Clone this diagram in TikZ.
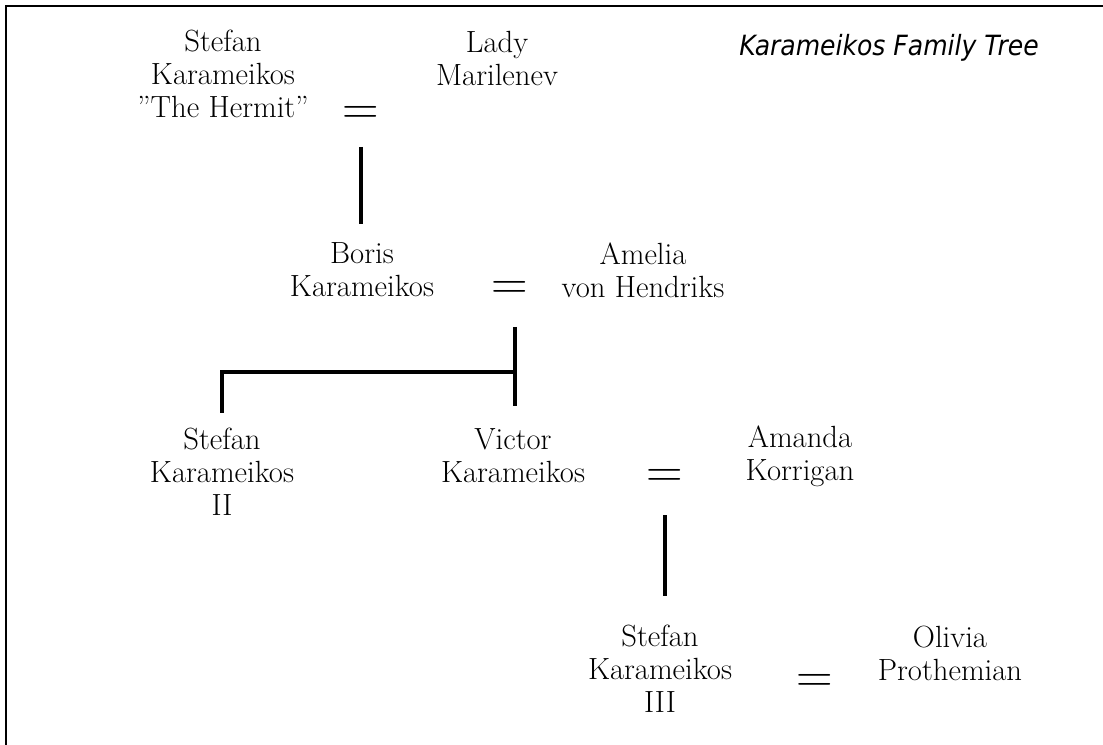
\documentclass[tikz,border=0pt]{standalone}
\usepackage{fontspec}
\usepackage{tikz}
\usetikzlibrary{calc}

\newfontfamily\titlefont{DejaVu Sans Condensed}
\newcommand{\personfont}{\fontsize{23pt}{24.75pt}\selectfont}

\begin{document}
\begin{tikzpicture}[x=0.75pt, y=-0.75pt,
    person/.style={align=center, inner sep=0pt, font=\personfont},
    marriage/.style={inner sep=0pt, font=\fontsize{38pt}{38pt}\selectfont},
    descent/.style={line width=3pt}]
            \useasboundingbox (0,0) rectangle (1103,745);
            \draw[line width=1.5pt] (6,745) -- (6,6) -- (1103,6);

            \node[font=\titlefont\itshape\fontsize{20.9pt}{24pt}\selectfont] (title) at (889,48) {Karameikos Family Tree};

            % first generation
            \node[person] (hermit) at (223,74) {Stefan\\Karameikos\\''The Hermit''};
            \node[marriage] (wed1) at (361,115) {=};
            \node[person] (lady) at (497,58) {Lady\\Marilenev};

            % second generation
            \node[person] (boris) at (362,270) {Boris\\Karameikos};
            \node[marriage] (wed2) at (510,290) {=};
            \node[person] (amelia) at (643,270) {Amelia\\von Hendriks};

            % third generation
            \node[person] (stefan2) at (222,472) {Stefan\\Karameikos\\II};
            \node[person] (victor) at (513,456) {Victor\\Karameikos};
            \node[marriage] (wed3) at (665,478) {=};
            \node[person] (amanda) at (800,456) {Amanda\\Korrigan};

            % fourth generation
            \node[person] (stefan3) at (660,669) {Stefan\\Karameikos\\III};
            \node[marriage] (wed4) at (815,683) {=};
            \node[person] (olivia) at (950,653) {Olivia\\Prothemian};

            \coordinate (fork) at (515,372);
            \draw[descent, shorten <=24pt, shorten >=14pt] (wed1.center) -- (wed1.center |- boris.north);
            \draw[descent, shorten <=27.75pt, shorten >=17pt] (fork |- wed2.center) -- (fork |- victor.north);
            \draw[descent, shorten >=11.5pt] (fork) -| (stefan2.north);
            \draw[descent, shorten <=27.75pt, shorten >=22pt] (wed3.center) -- (wed3.center |- stefan3.north);
        \end{tikzpicture}
\end{document}
